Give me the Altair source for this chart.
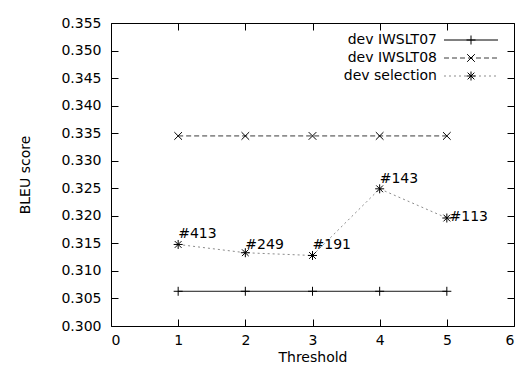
import altair as alt
import pandas as pd

# ---- data ----
thresholds = [1, 2, 3, 4, 5]
iwslt07 = [0.3063, 0.3063, 0.3063, 0.3063, 0.3063]
iwslt08 = [0.3345, 0.3345, 0.3345, 0.3345, 0.3345]
selection = [0.3148, 0.3133, 0.3128, 0.3249, 0.3196]
sel_labels = ["#413", "#249", "#191", "#143", "#113"]
label_x = [1.0, 2.0, 3.0, 4.0, 5.04]
label_y = [0.3160, 0.3139, 0.3139, 0.3260, 0.3190]
series_names = ["dev IWSLT07", "dev IWSLT08", "dev selection"]
marker_keys = ["plus", "cross", "star"]
y_ticks = [0.300, 0.305, 0.310, 0.315, 0.320, 0.325, 0.330, 0.335, 0.340, 0.345, 0.350, 0.355]
x_ticks = [0, 1, 2, 3, 4, 5, 6]

rows = []
for name, mk, vals in zip(series_names, marker_keys, [iwslt07, iwslt08, selection]):
    for t, v in zip(thresholds, vals):
        rows.append({"t": t, "v": v, "series": name, "marker": mk})
df = pd.DataFrame(rows)
lab = pd.DataFrame({"t": label_x, "v": label_y, "txt": sel_labels})

FONT = "DejaVu Sans"
xs = alt.Scale(domain=[0, 6], nice=False, zero=False)
ys = alt.Scale(domain=[0.300, 0.355], nice=False, zero=False)

PLUS = "M-1,0L1,0M0,-1L0,1"
CROSS = "M-0.85,-0.85L0.85,0.85M-0.85,0.85L0.85,-0.85"
STAR = "M-1,0L1,0M0,-1L0,1M-0.75,-0.75L0.75,0.75M-0.75,0.75L0.75,-0.75"
# legend line sample drawn to the right of its anchor (symbol scale = 4.5 px per unit)
LINE_SYMBOL = "M3.11,0L15.11,0"

line_legend = alt.Legend(
    orient="none", legendX=312, legendY=10, title=None,
    symbolType=LINE_SYMBOL, symbolSize=81, symbolStrokeWidth=1,
    rowPadding=4, labelAlign="right", labelOffset=0,
    labelFont=FONT, labelFontSize=14, labelColor="black", padding=0, symbolOffset=0,
)

lines = alt.Chart(df).mark_line(strokeWidth=1).encode(
    x=alt.X("t:Q", scale=xs, axis=alt.Axis(
        orient="bottom", values=x_ticks, format="d", title="Threshold",
        ticks=False, domain=False, labelPadding=7,
        titleX=201.5, titleY=35, titleBaseline="alphabetic", titleAlign="center")),
    y=alt.Y("v:Q", scale=ys, axis=alt.Axis(
        orient="left", values=y_ticks, format=".3f", title="BLEU score",
        ticks=False, domain=False, labelPadding=10,
        titleX=-86, titleY=151.5, titleAngle=270, titleAlign="center", titleBaseline="middle")),
    stroke=alt.Stroke("series:N", scale=alt.Scale(domain=series_names, range=["#000000", "#3a3a3a", "#8c8c8c"]), legend=line_legend),
    strokeDash=alt.StrokeDash("series:N", scale=alt.Scale(domain=series_names, range=[[1, 0], [5, 3], [2, 3]]), legend=line_legend),
)

points = alt.Chart(df).mark_point(filled=False, size=81, strokeWidth=1, color="black", opacity=1).encode(
    x=alt.X("t:Q", scale=xs, axis=alt.Axis(
        orient="bottom", values=x_ticks, offset=-7, tickSize=7, labels=False,
        domain=False, title=None, tickColor="black")),
    y=alt.Y("v:Q", scale=ys, axis=alt.Axis(
        orient="left", values=y_ticks, offset=-7, tickSize=7, labels=False,
        domain=False, title=None, tickColor="black")),
    shape=alt.Shape("marker:N", scale=alt.Scale(domain=marker_keys, range=[PLUS, CROSS, STAR]),
                    legend=alt.Legend(orient="none", legendX=353, legendY=10, title=None,
                                      symbolSize=81, symbolStrokeWidth=1, symbolStrokeColor="black",
                                      rowPadding=4, labelExpr="''",
                                      labelFontSize=14, padding=0, symbolOffset=0)),
)

texts = alt.Chart(lab).mark_text(align="left", baseline="alphabetic", font=FONT, fontSize=14, color="black").encode(
    x=alt.X("t:Q", scale=xs, axis=alt.Axis(
        orient="top", values=x_ticks, offset=-7, tickSize=7, labels=False,
        domain=False, title=None, tickColor="black")),
    y=alt.Y("v:Q", scale=ys, axis=alt.Axis(
        orient="right", values=y_ticks, offset=-7, tickSize=7, labels=False,
        domain=False, title=None, tickColor="black")),
    text="txt:N",
)

chart = alt.layer(lines, points, texts).resolve_axis(
    x="independent", y="independent"
).resolve_scale(x="shared", y="shared").properties(
    width=403, height=303, autosize="none",
    padding={"left": 103, "top": 15, "right": 3, "bottom": 41},
).configure_view(stroke="black", strokeWidth=1).configure_axis(
    labelFont=FONT, labelFontSize=14, labelColor="black",
    titleFont=FONT, titleFontSize=14, titleColor="black", titleFontWeight="normal",
    grid=False,
)

chart.save("out.html", embed_options={"renderer": "svg", "actions": False})
